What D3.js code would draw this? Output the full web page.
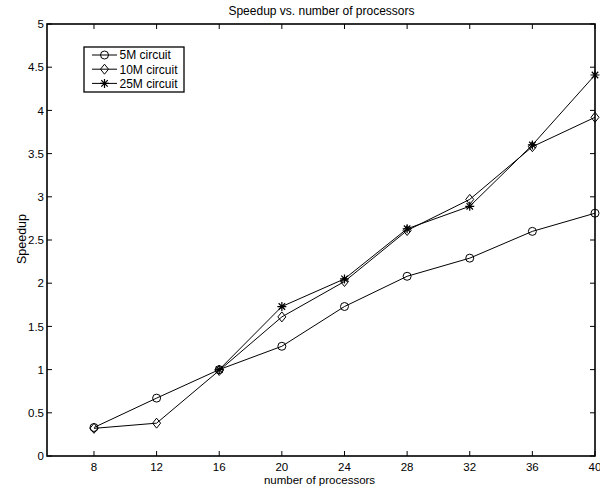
<!DOCTYPE html>
<html><head><meta charset="utf-8">
<script src="https://cdn.jsdelivr.net/npm/d3@7"></script>
<style>body{margin:0;background:#fff}svg{display:block;font-family:"Liberation Sans",Arial,sans-serif}</style>
</head><body><svg id="c" width="600" height="488"></svg>
<script>
const processors = [8, 12, 16, 20, 24, 28, 32, 36, 40];
const speedup5M  = [0.33, 0.67, 1.00, 1.27, 1.73, 2.08, 2.29, 2.60, 2.81];
const speedup10M = [0.32, 0.38, 0.99, 1.61, 2.02, 2.61, 2.97, 3.58, 3.92];
const procs25M   = [16, 20, 24, 28, 32, 36, 40];
const speedup25M = [1.00, 1.73, 2.05, 2.63, 2.89, 3.60, 4.41];
const seriesNames = ["5M circuit", "10M circuit", "25M circuit"];
const xTicks = [8, 12, 16, 20, 24, 28, 32, 36, 40];
const yTicks = [0, 0.5, 1, 1.5, 2, 2.5, 3, 3.5, 4, 4.5, 5];

const svg = d3.select("#c");
const L = 47, R = 595, T = 24, B = 456;
const x = d3.scaleLinear().domain([5, 40]).range([L, R]);
const y = d3.scaleLinear().domain([0, 5]).range([B, T]);
const fs = 12;
const tfs = 11.5;

// ticks (inside, all four sides)
const g = svg.append("g").attr("stroke", "#000").attr("stroke-width", 1);
xTicks.forEach(t => {
  g.append("line").attr("x1", x(t)).attr("x2", x(t)).attr("y1", B).attr("y2", B - 5);
  g.append("line").attr("x1", x(t)).attr("x2", x(t)).attr("y1", T).attr("y2", T + 5);
});
yTicks.forEach(t => {
  g.append("line").attr("x1", L).attr("x2", L + 5).attr("y1", y(t)).attr("y2", y(t));
  g.append("line").attr("x1", R).attr("x2", R - 5).attr("y1", y(t)).attr("y2", y(t));
});
svg.append("rect").attr("x", L).attr("y", T).attr("width", R - L).attr("height", B - T)
  .attr("fill", "none").attr("stroke", "#000").attr("stroke-width", 1.6);

// tick labels
svg.append("g").selectAll("text").data(xTicks).join("text")
  .attr("x", d => x(d)).attr("y", B + 14.5).attr("text-anchor", "middle")
  .attr("font-size", tfs).text(d => d);
svg.append("g").selectAll("text").data(yTicks).join("text")
  .attr("x", L - 3).attr("y", d => y(d) + 4.2).attr("text-anchor", "end")
  .attr("font-size", tfs).text(d => d);

// titles
svg.append("text").attr("x", 321.5).attr("y", 14.5).attr("text-anchor", "middle")
  .attr("font-size", fs).text("Speedup vs. number of processors");
svg.append("text").attr("x", 319.5).attr("y", 483.5).attr("text-anchor", "middle")
  .attr("font-size", 11.5).text("number of processors");
svg.append("text").attr("transform", "translate(25.5,239) rotate(-90)")
  .attr("text-anchor", "middle").attr("font-size", 12.5).text("Speedup");

// markers
function marker(sel, type, cx, cy) {
  if (type === 0) {
    sel.append("circle").attr("cx", cx).attr("cy", cy).attr("r", 4)
      .attr("fill", "none").attr("stroke", "#000").attr("stroke-width", 1);
  } else if (type === 1) {
    const s = 5;
    sel.append("path").attr("d", `M${cx},${cy - s}L${cx + s * 0.8},${cy}L${cx},${cy + s}L${cx - s * 0.8},${cy}Z`)
      .attr("fill", "none").attr("stroke", "#000").attr("stroke-width", 1);
  } else {
    const s = 4.5;
    const d = s * 0.72;
    sel.append("path").attr("d",
      `M${cx - s},${cy}L${cx + s},${cy}M${cx},${cy - s}L${cx},${cy + s}` +
      `M${cx - d},${cy - d}L${cx + d},${cy + d}M${cx - d},${cy + d}L${cx + d},${cy - d}`)
      .attr("stroke", "#000").attr("stroke-width", 1.2);
  }
}

const series = [
  { xs: processors, ys: speedup5M, type: 0 },
  { xs: processors, ys: speedup10M, type: 1 },
  { xs: procs25M, ys: speedup25M, type: 2 }
];
const line = d3.line().x(d => x(d[0])).y(d => y(d[1]));
const plot = svg.append("g");
series.forEach(s => {
  const pts = s.xs.map((v, i) => [v, s.ys[i]]);
  plot.append("path").attr("d", line(pts)).attr("fill", "none")
    .attr("stroke", "#000").attr("stroke-width", 1);
  pts.forEach(p => marker(plot, s.type, x(p[0]), y(p[1])));
});

// legend
const lg = svg.append("g");
lg.append("rect").attr("x", 84).attr("y", 47).attr("width", 100).attr("height", 45)
  .attr("fill", "#fff").attr("stroke", "#000").attr("stroke-width", 1.3);
seriesNames.forEach((n, i) => {
  const ly = 55 + i * 14.2;
  lg.append("line").attr("x1", 92).attr("x2", 117).attr("y1", ly).attr("y2", ly)
    .attr("stroke", "#000").attr("stroke-width", 1);
  marker(lg, i, 104.5, ly);
  lg.append("text").attr("x", 119.5).attr("y", ly + 4.3).attr("font-size", fs).text(n);
});
</script></body></html>
